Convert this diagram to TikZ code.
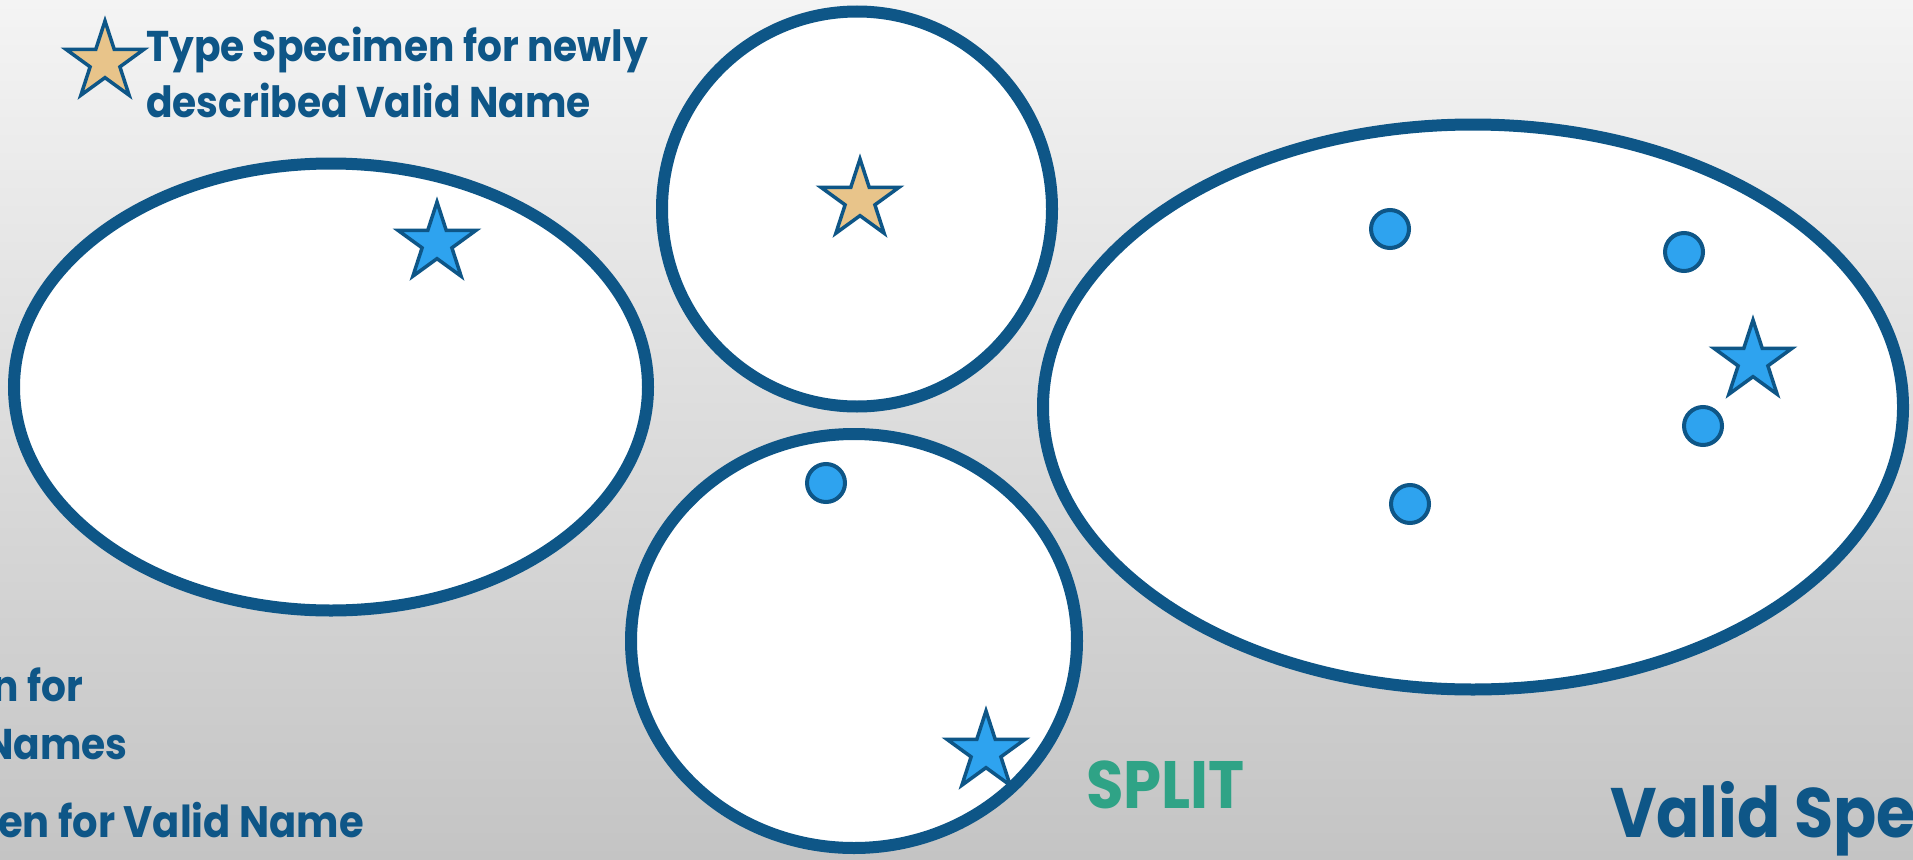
\documentclass[tikz,border=0pt]{standalone}
\usepackage{fontspec}
\setmainfont{Poppins}[FakeStretch=0.91]
\usetikzlibrary{shapes.geometric}
\definecolor{navy}{HTML}{0E5687}
\definecolor{skyb}{HTML}{2EA3EF}
\definecolor{tan}{HTML}{E8C48A}
\definecolor{teal}{HTML}{2FA386}
\definecolor{bgtop}{HTML}{F4F4F4}
\definecolor{bgbot}{HTML}{C4C4C4}
\begin{document}
\begin{tikzpicture}[x=1pt,y=-1pt,
  group/.style={ellipse, draw=navy, line width=12pt, fill=white, inner sep=0pt},
  bluestar/.style={star, star points=5, star point ratio=2.618, minimum size=82pt, inner sep=0pt, draw=navy, line width=3.5pt, fill=skyb},
  tanstar/.style={bluestar, fill=tan},
  dot/.style={circle, minimum size=38pt, inner sep=0pt, draw=navy, line width=4pt, fill=skyb},
  lbl/.style={text=navy, font=\bfseries\fontsize{43}{50}\selectfont, inner sep=0pt},
]
\useasboundingbox (0,0) rectangle (1913,859);
\clip (0,0) rectangle (1913,859);
\shade[top color=bgtop, bottom color=bgbot] (0,0) rectangle (1913,859);

\node[group, minimum width=634pt, minimum height=447pt] (left) at (331,387) {};
\node[group, minimum width=390pt, minimum height=395pt] (top) at (857,209) {};
\node[group, minimum width=446pt, minimum height=414pt] (bottom) at (854,641) {};
\node[group, minimum width=860pt, minimum height=565pt] (right) at (1473,407) {};

\node[tanstar] (legstar) at (105,62) {};
\node[bluestar] (s1) at (437,243) {};
\node[tanstar] (s2) at (860,200) {};
\node[bluestar] (s3) at (986,752) {};
\node[bluestar] (s4) at (1753,361) {};

\node[dot] (d1) at (1390,229) {};
\node[dot] (d2) at (1684,252) {};
\node[dot] (d3) at (1703,426) {};
\node[dot] (d4) at (1410,504) {};
\node[dot] (d5) at (826,483) {};

\node[lbl, anchor=base west] (t1) at (146,62) {Type Specimen for newly};
\node[lbl, anchor=base west] (t2) at (146,117) {described Valid Name};
\node[lbl, anchor=base east] (b1) at (83,701) {n for};
\node[lbl, anchor=base east] (b2) at (128,759) {Names};
\node[lbl, font=\bfseries\fontsize{44}{50}\selectfont, anchor=base east] (b3) at (364,837) {en for Valid Name};
\node[lbl, text=teal, font=\bfseries\fontsize{67}{70}\selectfont, anchor=base west] (split) at (1086,808) {SPLIT};
\node[lbl, font=\bfseries\fontsize{70}{74}\selectfont, anchor=base west] (valid) at (1610,837) {Valid Spec};
\end{tikzpicture}
\end{document}
